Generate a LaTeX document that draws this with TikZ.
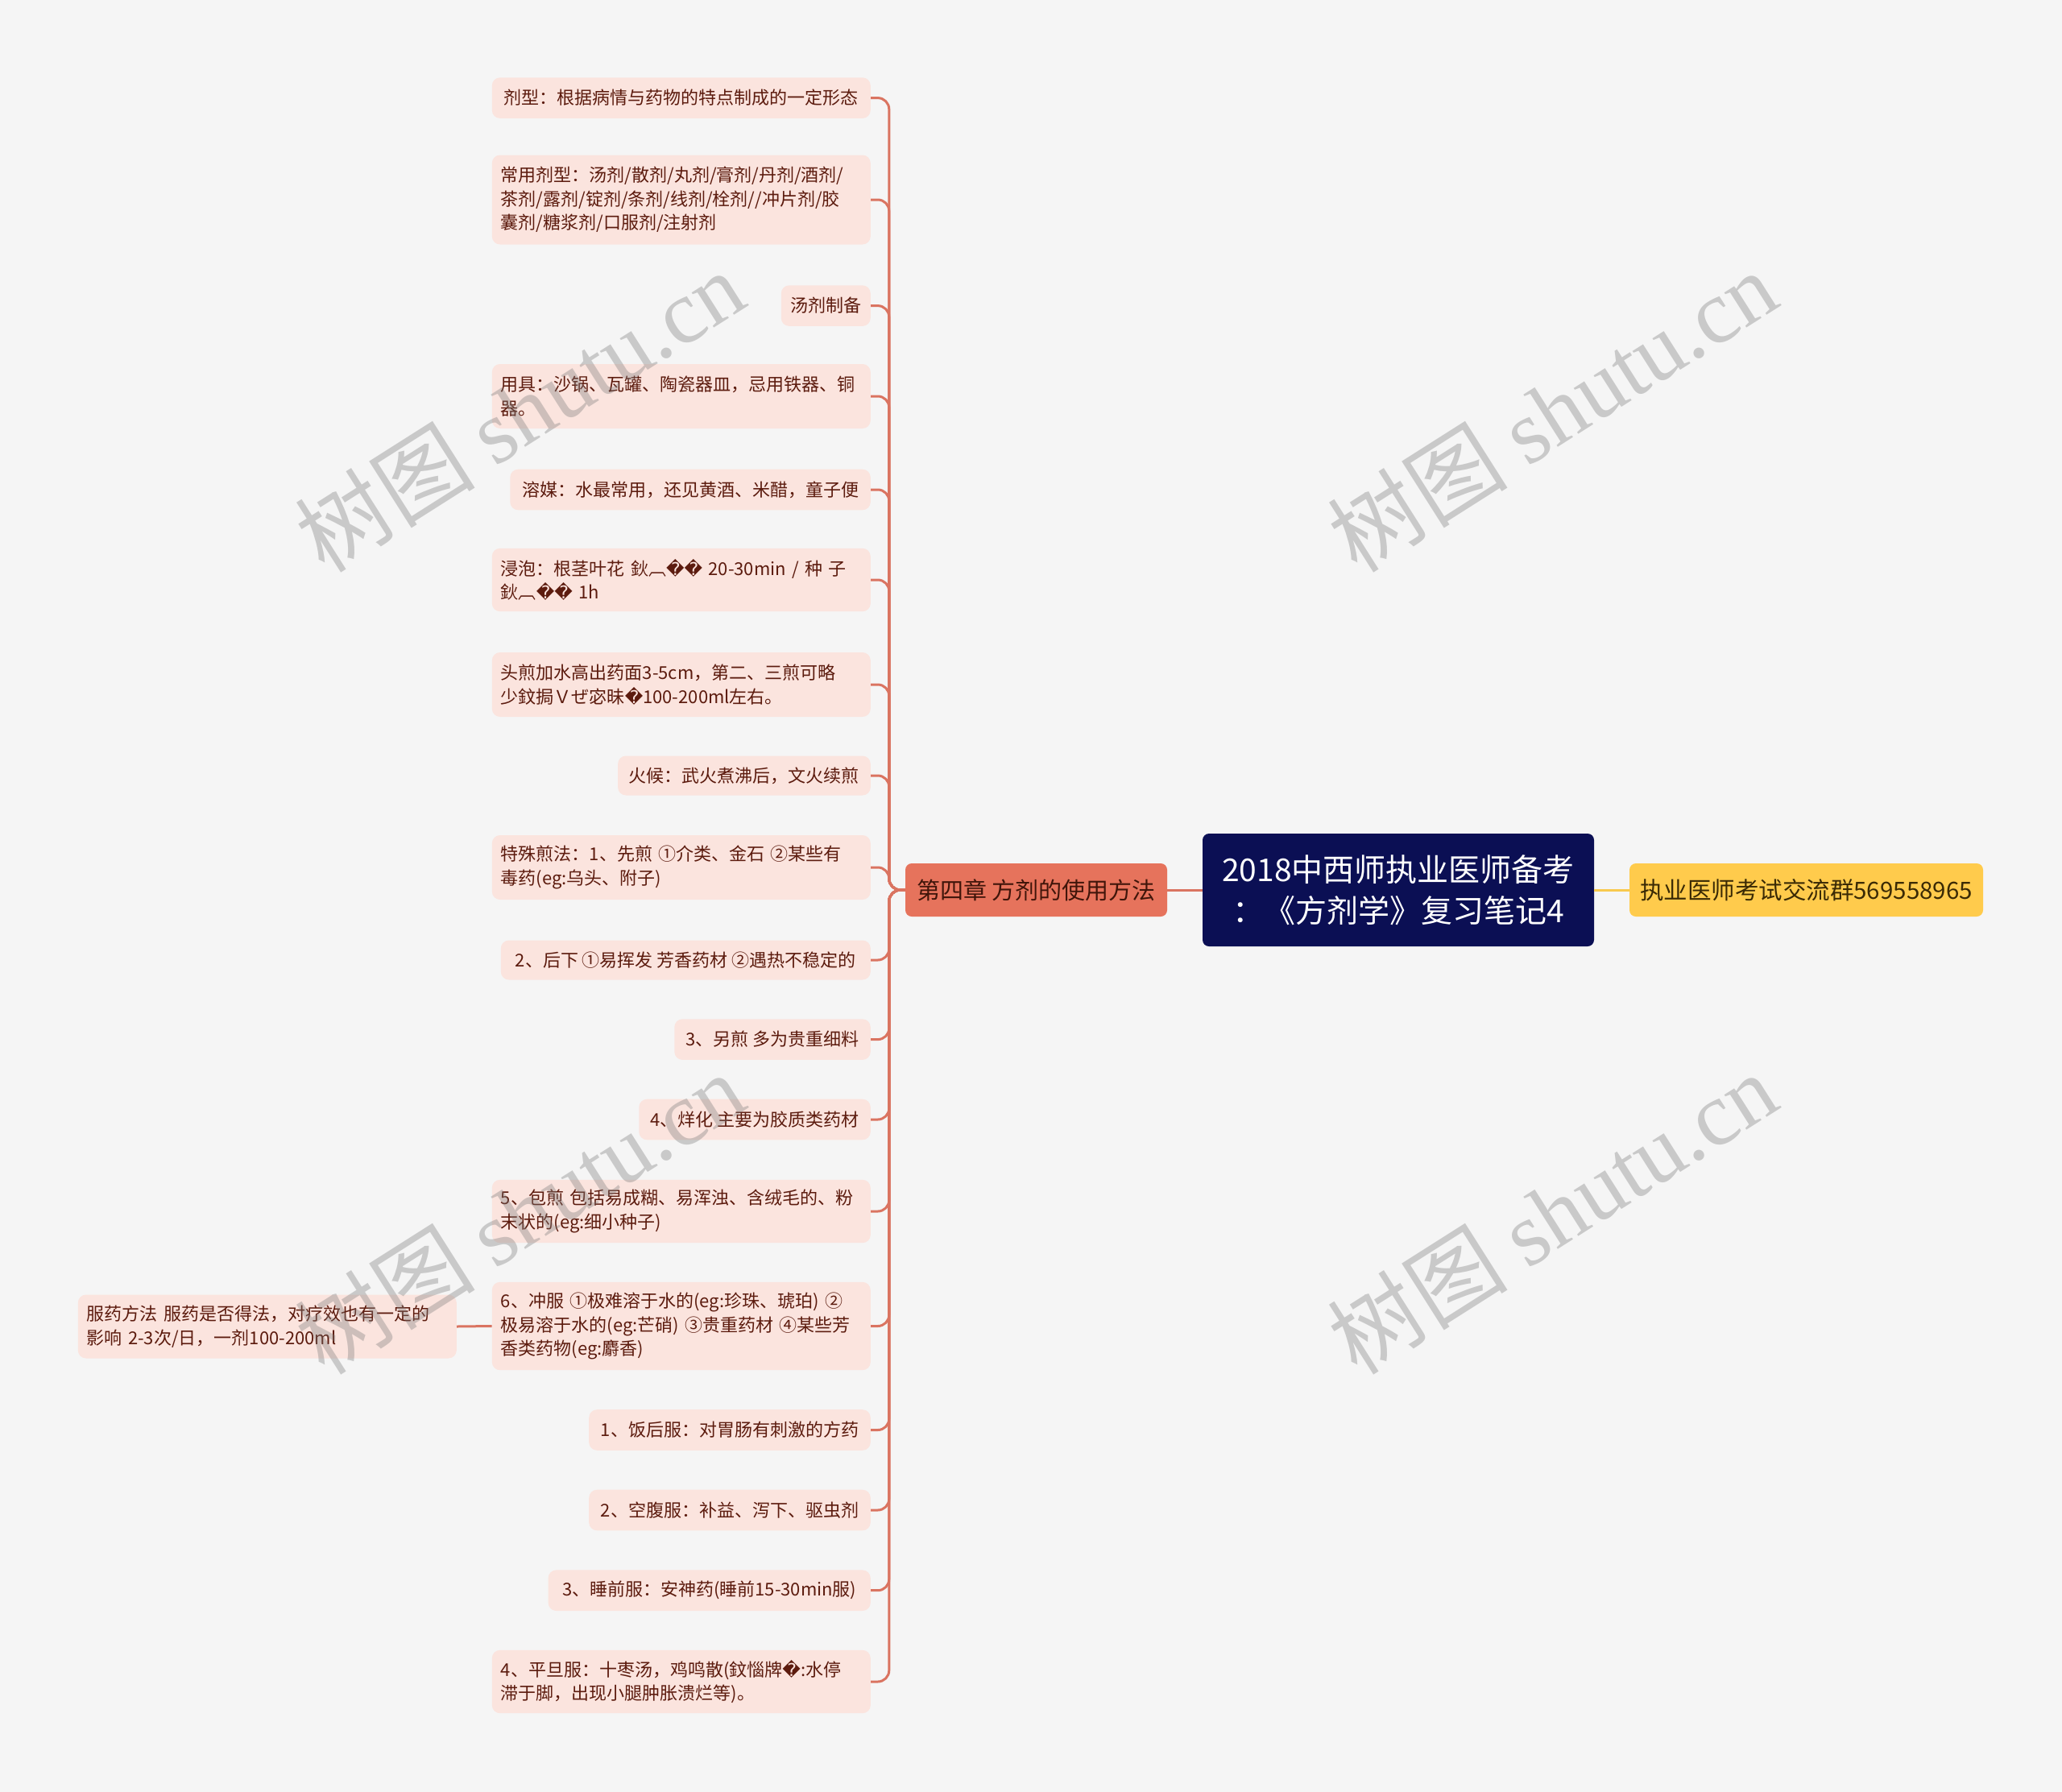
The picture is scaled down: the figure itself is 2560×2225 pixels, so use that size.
\documentclass[tikz,border=0pt]{standalone}
\usepackage{fontspec}
\setmainfont{Noto Sans CJK SC}
\newfontfamily\repfont{DejaVu Sans}
\newfontfamily\wmlatin{Liberation Serif}
\newcommand{\rep}{{\repfont\char"FFFD}}
\definecolor{bgc}{HTML}{F5F5F5}
\definecolor{cfill}{HTML}{FBE4DE}
\definecolor{ctext}{HTML}{5C1B0E}
\definecolor{conn}{HTML}{DA7461}
\definecolor{chfill}{HTML}{E6735C}
\definecolor{chtext}{HTML}{40150A}
\definecolor{rootfill}{HTML}{0B0F54}
\definecolor{yfill}{HTML}{FFCB4C}
\definecolor{ytext}{HTML}{3A2A05}
\definecolor{yconn}{HTML}{F8C94E}
\definecolor{wmc}{HTML}{787878}
\begin{document}
\begin{tikzpicture}[x=1pt,y=-1pt,
  child/.style={fill=cfill, rounded corners=10pt, text=ctext, font=\fontsize{22}{29.5}\selectfont,
    align=left, inner xsep=11pt, inner ysep=0pt, anchor=east},
  wide/.style={text width=448pt, minimum width=470pt},
  connl/.style={draw=conn, line width=3pt, rounded corners=14pt},
  wm/.style={text=wmc, opacity=0.35, rotate=32.4, font=\fontsize{112}{112}\selectfont, inner sep=0pt}
]
\useasboundingbox (0,0) rectangle (2560,2225);
\fill[bgc] (0,0) rectangle (2560,2225);

% central nodes
\node[fill=rootfill, rounded corners=8pt, text=white, align=center,
  font=\fontsize{39}{51}\selectfont, minimum width=486pt, minimum height=140pt, inner sep=0pt]
  (root) at (1736,1105) {2018中西师执业医师备考\\：《方剂学》复习笔记4};
\node[fill=chfill, rounded corners=8pt, text=chtext, font=\fontsize{29}{34}\selectfont,
  minimum width=325pt, minimum height=66pt, inner sep=0pt]
  (ch) at (1286.5,1105) {第四章 方剂的使用方法};
\node[fill=yfill, rounded corners=8pt, text=ytext, font=\fontsize{29.5}{34}\selectfont,
  minimum width=439pt, minimum height=66pt, inner sep=0pt]
  (yl) at (2242.5,1105) {执业医师考试交流群569558965};

\draw[draw=conn, line width=3pt] (root.west) -- (ch.east);
\draw[draw=yconn, line width=3pt] (root.east) -- (yl.west);

% children
\node[child, minimum width=470pt, minimum height=50.6pt] (c1) at (1081,121.6) {剂型：根据病情与药物的特点制成的一定形态};
\node[child, wide, minimum height=111pt] (c2) at (1081,248) {常用剂型：汤剂/散剂/丸剂/膏剂/丹剂/酒剂/\\茶剂/露剂/锭剂/条剂/线剂/栓剂//冲片剂/胶\\囊剂/糖浆剂/口服剂/注射剂};
\node[child, minimum width=111pt, minimum height=50.6pt] (c3) at (1081,379.6) {汤剂制备};
\node[child, wide, minimum height=80pt] (c4) at (1081,492) {用具：沙锅、瓦罐、陶瓷器皿，忌用铁器、铜\\器。};
\node[child, minimum width=447.5pt, minimum height=50.6pt] (c5) at (1081,608) {溶媒：水最常用，还见黄酒、米醋，童子便};
\node[child, wide, minimum height=78.4pt] (c6) at (1081,720) {浸泡：根茎叶花 鈥︹\rep\rep{} 20-30min / 种 子\\鈥︹\rep\rep{} 1h};
\node[child, wide, minimum height=80pt] (c7) at (1081,850) {头煎加水高出药面3-5cm，第二、三煎可略\\少鈫挶Ｖぜ宓昧\rep{}100-200ml左右。};
\node[child, minimum width=313.7pt, minimum height=49pt] (c8) at (1081,963) {火候：武火煮沸后，文火续煎};
\node[child, wide, minimum height=80pt] (c9) at (1081,1077) {特殊煎法：1、先煎 ①介类、金石 ②某些有\\毒药(eg:乌头、附子)};
\node[child, minimum width=459pt, minimum height=49pt] (c10) at (1081,1192) {2、后下 ①易挥发 芳香药材 ②遇热不稳定的};
\node[child, minimum width=243.5pt, minimum height=50.6pt] (c11) at (1081,1290.6) {3、另煎 多为贵重细料};
\node[child, minimum width=287.5pt, minimum height=50.6pt] (c12) at (1081,1390) {4、烊化 主要为胶质类药材};
\node[child, wide, minimum height=78.4pt] (c13) at (1081,1504) {5、包煎 包括易成糊、易浑浊、含绒毛的、粉\\末状的(eg:细小种子)};
\node[child, wide, minimum height=109.4pt] (c14) at (1081,1646.5) {6、冲服 ①极难溶于水的(eg:珍珠、琥珀) ②\\极易溶于水的(eg:芒硝) ③贵重药材 ④某些芳\\香类药物(eg:麝香)};
\node[child, minimum width=349.6pt, minimum height=50.6pt] (c15) at (1081,1775.5) {1、饭后服：对胃肠有刺激的方药};
\node[child, minimum width=349.6pt, minimum height=50.6pt] (c16) at (1081,1875) {2、空腹服：补益、泻下、驱虫剂};
\node[child, minimum width=400.2pt, minimum height=50.6pt] (c17) at (1081,1974.7) {3、睡前服：安神药(睡前15-30min服)};
\node[child, wide, minimum height=78.4pt] (c18) at (1081,2088) {4、平旦服：十枣汤，鸡鸣散(鈫惱牌\rep{}:水停\\滞于脚，出现小腿肿胀溃烂等)。};

% grandchild
\node[child, wide, minimum height=79pt] (g1) at (567,1647) {服药方法 服药是否得法，对疗效也有一定的\\影响 2-3次/日，一剂100-200ml};

% connectors
\foreach \c in {c1,c2,c3,c4,c5,c6,c7,c8,c9,c10,c11,c12,c13,c14,c15,c16,c17,c18}{
  \draw[connl] (ch.west) -- ++(-20,0) |- (\c.east);
}
\draw[draw=conn, line width=3pt] (c14.west) -- (g1.east);

% watermarks
\node[wm] (w1) at (645,510) {树图 {\wmlatin shutu.cn}};
\node[wm] (w2) at (1927,510) {树图 {\wmlatin shutu.cn}};
\node[wm] (w3) at (645,1506) {树图 {\wmlatin shutu.cn}};
\node[wm] (w4) at (1927,1506) {树图 {\wmlatin shutu.cn}};
\end{tikzpicture}
\end{document}
